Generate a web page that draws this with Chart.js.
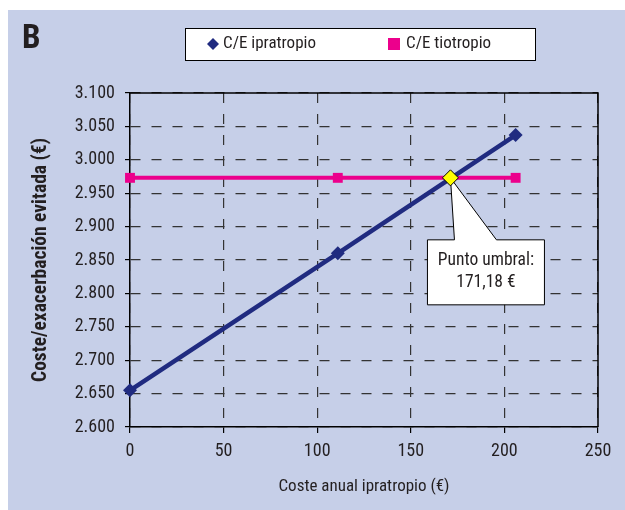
<!DOCTYPE html>
<html>
<head>
<meta charset="utf-8">
<script src="https://cdn.jsdelivr.net/npm/chart.js@4.4.0/dist/chart.umd.min.js"></script>
<style>
  html, body { margin: 0; padding: 0; background: #fff; }
</style>
</head>
<body>
<canvas id="costChart" width="625" height="510"></canvas>
<script>
// coste por exacerbación evitada frente al coste anual de ipratropio
const ipraX = [0, 111, 206];
const ipraY = [2655, 2860, 3037];
const tioX = [0, 111, 206];
const tioY = [2973, 2973, 2973];
const umbralX = [171.18];
const umbralY = [2973];
const xTicks = [0, 50, 100, 150, 200, 250];
const yTicks = [2600, 2650, 2700, 2750, 2800, 2850, 2900, 2950, 3000, 3050, 3100];
const seriesLabels = ['C/E ipratropio', 'C/E tiotropio'];

const NAVY = '#202b80';
const MAGENTA = '#ec008c';
const BG = '#c6cfe8';
const INK = '#231f20';
const FONT = '"Roboto Condensed", sans-serif';

const toPts = (xs, ys) => xs.map((x, i) => ({ x: x, y: ys[i] }));

// 3100 -> "3.100"
function miles(v) {
  const s = String(Math.round(v));
  return s.length > 3 ? s.slice(0, -3) + '.' + s.slice(-3) : s;
}

const fondo = {
  id: 'fondo',
  beforeDraw(chart) {
    const ctx = chart.ctx;
    ctx.save();
    ctx.fillStyle = '#fff';
    ctx.fillRect(0, 0, chart.width, chart.height);
    ctx.fillStyle = BG;
    ctx.fillRect(8, 10, chart.width - 8, chart.height - 10);
    ctx.fillStyle = INK;
    ctx.font = 'bold 33px ' + FONT;
    ctx.textBaseline = 'alphabetic';
    ctx.fillText('B', 22, 48);
    ctx.restore();
  }
};

// marco superior/derecho y recuadro del punto umbral
const marco = {
  id: 'marco',
  beforeDatasetsDraw(chart) {
    const ctx = chart.ctx;
    const a = chart.chartArea;
    ctx.save();
    ctx.strokeStyle = '#000';
    ctx.lineWidth = 1.5;
    ctx.beginPath();
    ctx.moveTo(a.left, a.top);
    ctx.lineTo(a.right, a.top);
    ctx.lineTo(a.right, a.bottom);
    ctx.stroke();

    const px = chart.scales.x.getPixelForValue(umbralX[0]);
    const py = chart.scales.y.getPixelForValue(umbralY[0]);
    const bx = px - 23, by = py + 62, bw = 117, bh = 65;
    ctx.fillStyle = '#fff';
    ctx.strokeStyle = '#000';
    ctx.lineWidth = 1;
    ctx.beginPath();
    ctx.moveTo(bx, by);
    ctx.lineTo(px + 4, by);
    ctx.lineTo(px, py);
    ctx.lineTo(px + 46, by);
    ctx.lineTo(bx + bw, by);
    ctx.lineTo(bx + bw, by + bh);
    ctx.lineTo(bx, by + bh);
    ctx.closePath();
    ctx.fill();
    ctx.stroke();
    ctx.fillStyle = INK;
    ctx.font = '17.5px ' + FONT;
    ctx.textAlign = 'center';
    ctx.textBaseline = 'middle';
    ctx.fillText('Punto umbral:', bx + bw / 2, by + 21);
    ctx.fillText(umbralX[0].toFixed(2).replace('.', ',') + ' \u20ac', bx + bw / 2, by + 43);
    ctx.restore();
  }
};

const leyenda = {
  id: 'leyenda',
  afterDraw(chart) {
    const ctx = chart.ctx;
    ctx.save();
    ctx.fillStyle = '#fff';
    ctx.fillRect(185, 28, 351, 32);
    ctx.strokeStyle = '#000';
    ctx.lineWidth = 1;
    ctx.strokeRect(185.5, 28.5, 350, 32);
    const cy = 44;
    // rombo
    ctx.fillStyle = chart.data.datasets[0].borderColor;
    ctx.beginPath();
    ctx.moveTo(213, cy - 6);
    ctx.lineTo(219, cy);
    ctx.lineTo(213, cy + 6);
    ctx.lineTo(207, cy);
    ctx.closePath();
    ctx.fill();
    // cuadrado
    ctx.fillStyle = chart.data.datasets[1].borderColor;
    ctx.fillRect(388, cy - 6, 12, 12);
    ctx.fillStyle = INK;
    ctx.font = '17px ' + FONT;
    ctx.textBaseline = 'middle';
    ctx.fillText(chart.data.datasets[0].label, 223, cy);
    ctx.fillText(chart.data.datasets[1].label, 406, cy);
    ctx.restore();
  }
};

new Chart(document.getElementById('costChart'), {
  type: 'scatter',
  data: {
    datasets: [
      {
        label: seriesLabels[0],
        data: toPts(ipraX, ipraY),
        showLine: true,
        clip: false,
        borderColor: NAVY,
        backgroundColor: NAVY,
        borderWidth: 4.5,
        pointStyle: 'rectRot',
        pointRadius: 7,
        pointBorderWidth: 0,
        order: 2
      },
      {
        label: seriesLabels[1],
        data: toPts(tioX, tioY),
        showLine: true,
        clip: false,
        borderColor: MAGENTA,
        backgroundColor: MAGENTA,
        borderWidth: 4,
        pointStyle: 'rect',
        pointRadius: 7,
        pointBorderWidth: 0,
        order: 3
      },
      {
        label: 'Punto umbral',
        data: toPts(umbralX, umbralY),
        showLine: false,
        clip: false,
        borderColor: '#000',
        backgroundColor: '#ffff00',
        borderWidth: 1,
        pointStyle: 'rectRot',
        pointRadius: 8,
        order: 1
      }
    ]
  },
  options: {
    responsive: false,
    animation: false,
    layout: { padding: { left: 0, top: 93, right: 27, bottom: 0 } },
    plugins: {
      legend: { display: false },
      tooltip: { enabled: false }
    },
    scales: {
      x: {
        type: 'linear',
        min: 0,
        max: 250,
        afterBuildTicks: s => { s.ticks = xTicks.map(v => ({ value: v })); },
        afterFit: s => { s.height = 83; },
        border: { display: true, color: '#000', width: 1.5, dash: [10, 11] },
        grid: { color: '#333', lineWidth: 1.2, tickLength: 6, tickColor: '#000', tickWidth: 1.2 },
        ticks: { color: INK, font: { family: FONT, size: 18 }, padding: 8, maxRotation: 0 },
        title: {
          display: true,
          text: 'Coste anual ipratropio (\u20ac)',
          color: INK,
          font: { family: FONT, size: 17 },
          padding: { top: 0, bottom: 13 }
        }
      },
      y: {
        type: 'linear',
        min: 2600,
        max: 3100,
        afterBuildTicks: s => { s.ticks = yTicks.map(v => ({ value: v })); },
        afterFit: s => { s.width = 130; },
        border: { display: true, color: '#000', width: 1.5, dash: [10, 11] },
        grid: { color: '#333', lineWidth: 1.2, tickLength: 5, tickColor: '#000', tickWidth: 1.2 },
        ticks: { color: INK, font: { family: FONT, size: 18 }, padding: 10, callback: v => miles(v) },
        title: {
          display: true,
          text: 'Coste/exacerbaci\u00f3n evitada (\u20ac)',
          color: INK,
          font: { family: FONT, size: 19.5, weight: 'bold' },
          padding: { top: 29, bottom: 0 }
        }
      }
    }
  },
  plugins: [fondo, marco, leyenda]
});
</script>
</body>
</html>
